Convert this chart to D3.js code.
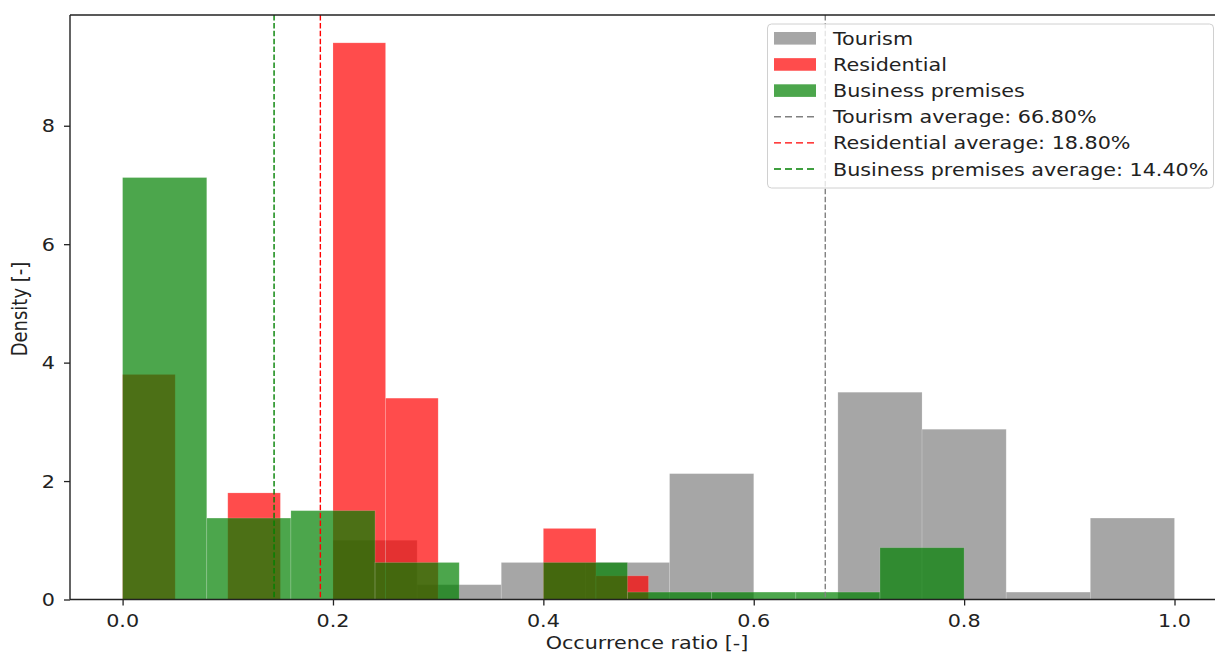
<!DOCTYPE html>
<html>
<head>
<meta charset="utf-8">
<script src="https://cdn.jsdelivr.net/npm/d3@7"></script>
<style>
  html, body { margin: 0; padding: 0; background: #fff; }
  svg { display: block; }
  text { font-family: "DejaVu Sans", sans-serif; fill: #222; }
</style>
</head>
<body>
<svg id="chart" width="1215" height="653"></svg>
<script>
// ---- data ----
const seriesNames = ["Tourism", "Residential", "Business premises"];
const seriesColors = ["gray", "red", "green"];

const tourismEdges = [0.20, 0.28, 0.36, 0.44, 0.52, 0.60, 0.68, 0.76, 0.84, 0.92, 1.00];
const tourismDensity = [1.0, 0.25, 0.625, 0.625, 2.125, 0, 3.5, 2.875, 0.125, 1.375];

const residentialEdges = [0, 0.05, 0.10, 0.15, 0.20, 0.25, 0.30, 0.35, 0.40, 0.45, 0.50];
const residentialDensity = [3.8, 0, 1.8, 0, 9.4, 3.4, 0, 0, 1.2, 0.4];

const businessEdges = [0, 0.08, 0.16, 0.24, 0.32, 0.40, 0.48, 0.56, 0.64, 0.72, 0.80];
const businessDensity = [7.125, 1.375, 1.5, 0.625, 0, 0.625, 0.125, 0.125, 0.125, 0.875];

const averages = [0.668, 0.188, 0.144];
const averageLabels = ["Tourism average: 66.80%", "Residential average: 18.80%", "Business premises average: 14.40%"];

const xTicks = [0.0, 0.2, 0.4, 0.6, 0.8, 1.0];
const yTicks = [0, 2, 4, 6, 8];
const xDomain = [-0.05, 1.05];
const yDomain = [0, 9.87];
const xLabel = "Occurrence ratio [-]";
const yLabel = "Density [-]";

// ---- layout ----
const svg = d3.select("#chart");
const plot = { left: 70, right: 1227.1, top: 15, bottom: 599.5 };
const SX = 1.15;      // horizontal text stretch of the reference
const FS = 18;

const x = d3.scaleLinear().domain(xDomain).range([plot.left, plot.right]);
const y = d3.scaleLinear().domain(yDomain).range([plot.bottom, plot.top]);

function txt(g, tx, ty, s, anchor, rot) {
  return g.append("text")
    .attr("transform", `translate(${tx},${ty})` + (rot ? ` rotate(${rot})` : "") + ` scale(${rot ? 1 : SX},${rot ? SX : 1})`)
    .attr("text-anchor", anchor || "start")
    .style("font-size", FS + "px")
    .text(s);
}

// ---- histograms ----
const series = [
  { edges: tourismEdges, dens: tourismDensity },
  { edges: residentialEdges, dens: residentialDensity },
  { edges: businessEdges, dens: businessDensity }
];
series.forEach((s, i) => {
  const bins = s.dens.map((d, k) => ({ x0: s.edges[k], x1: s.edges[k + 1], v: d })).filter(b => b.v > 0);
  svg.append("g").selectAll("rect").data(bins).join("rect")
    .attr("x", d => x(d.x0))
    .attr("width", d => x(d.x1) - x(d.x0))
    .attr("y", d => y(d.v))
    .attr("height", d => y(0) - y(d.v))
    .attr("fill", seriesColors[i])
    .attr("fill-opacity", 0.7)
    .attr("stroke", "#fff")
    .attr("stroke-opacity", 0.2)
    .attr("stroke-width", 0.8);
});

// ---- average lines ----
averages.forEach((m, i) => {
  svg.append("line")
    .attr("x1", x(m)).attr("x2", x(m))
    .attr("y1", plot.top).attr("y2", plot.bottom)
    .attr("stroke", seriesColors[i])
    .attr("stroke-width", 1.4)
    .attr("stroke-dasharray", "5.5,2.4");
});

// ---- axes ----
const xAxis = d3.axisBottom(x).tickValues(xTicks).tickFormat(d3.format(".1f")).tickSize(6).tickSizeOuter(0);
const gx = svg.append("g").attr("transform", `translate(0,${plot.bottom})`).call(xAxis);
gx.select(".domain").remove();
gx.selectAll(".tick line").attr("stroke", "#222").attr("stroke-width", 1.3);
gx.selectAll(".tick text").remove();
xTicks.forEach(v => txt(svg, x(v), 627, d3.format(".1f")(v), "middle"));

const yAxis = d3.axisLeft(y).tickValues(yTicks).tickSize(6).tickSizeOuter(0);
const gy = svg.append("g").attr("transform", `translate(${plot.left},0)`).call(yAxis);
gy.select(".domain").remove();
gy.selectAll(".tick line").attr("stroke", "#222").attr("stroke-width", 1.3);
gy.selectAll(".tick text").remove();
yTicks.forEach(v => txt(svg, 55, y(v) + 6.5, String(v), "end"));

// spines
[[plot.left, plot.bottom, plot.right, plot.bottom],
 [plot.left, plot.top, plot.right, plot.top],
 [plot.left, plot.top, plot.left, plot.bottom],
 [plot.right, plot.top, plot.right, plot.bottom]].forEach(s => {
  svg.append("line").attr("x1", s[0]).attr("y1", s[1]).attr("x2", s[2]).attr("y2", s[3])
    .attr("stroke", "#222").attr("stroke-width", 1.4);
});

// axis labels
txt(svg, 647, 649, xLabel, "middle");
txt(svg, 27, 309, yLabel, "middle", -90);

// ---- legend ----
const lg = svg.append("g");
lg.append("rect")
  .attr("x", 767.5).attr("y", 24).attr("width", 446).attr("height", 164).attr("rx", 4)
  .attr("fill", "#fff").attr("fill-opacity", 0.8)
  .attr("stroke", "#d0d0d0").attr("stroke-width", 1);
const rowY = d3.range(6).map(i => 38.3 + i * 26.15);
seriesNames.forEach((n, i) => {
  lg.append("rect").attr("x", 774).attr("y", rowY[i] - 6.3).attr("width", 42).attr("height", 12.6)
    .attr("fill", seriesColors[i]).attr("fill-opacity", 0.7);
  txt(lg, 833, rowY[i] + 6.5, n, "start");
});
averageLabels.forEach((n, i) => {
  lg.append("line").attr("x1", 774).attr("x2", 816).attr("y1", rowY[i + 3]).attr("y2", rowY[i + 3])
    .attr("stroke", seriesColors[i]).attr("stroke-width", 1.4).attr("stroke-dasharray", "7,4");
  txt(lg, 833, rowY[i + 3] + 6.5, n, "start");
});
</script>
</body>
</html>
